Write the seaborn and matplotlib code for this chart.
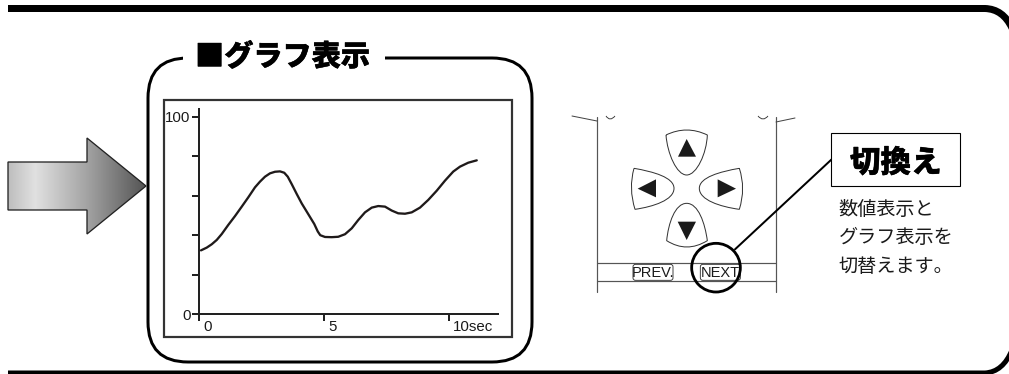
import matplotlib
matplotlib.use('Agg')
import matplotlib.pyplot as plt
import matplotlib.patheffects as pe
from matplotlib.patches import PathPatch, Polygon, Rectangle, FancyBboxPatch, Circle
from matplotlib.path import Path
from matplotlib.transforms import ScaledTranslation
import numpy as np
import pandas as pd
import seaborn as sns

# values
seconds = [0.08, 0.31, 0.51, 0.71, 0.91, 1.17, 1.44, 1.71, 1.97, 2.24, 2.44, 2.64, 2.84, 3.04,
           3.24, 3.41, 3.55, 3.71, 3.91, 4.11, 4.37, 4.61, 4.75, 4.85, 5.04, 5.31, 5.57, 5.84,
           6.11, 6.37, 6.64, 6.91, 7.17, 7.44, 7.71, 7.97, 8.24, 8.51, 8.84, 9.17, 9.51, 9.84,
           10.17, 10.44, 10.77, 11.11]
level = [32.3, 33.7, 35.4, 37.6, 40.6, 45.2, 49.7, 54.5, 59.2, 64.3, 67.2, 69.7, 71.4, 72.2,
         72.4, 71.7, 69.7, 65.9, 60.9, 56.1, 50.7, 45.7, 41.9, 40.0, 39.1, 39.0, 39.2, 40.5,
         43.5, 47.7, 51.6, 54.0, 54.8, 54.5, 52.5, 51.1, 50.9, 51.6, 54.0, 57.9, 62.6, 67.7,
         72.3, 74.8, 76.8, 78.0]
x_ticks = [0, 5, 10]
x_tick_labels = ['0', '5', '10sec']
y_ticks = [0, 20, 40, 60, 80, 100]
y_tick_labels = ['0', '', '', '', '', '100']

title_text = '■グラフ表示'
button_text = '切換え'
note_lines = ['数値表示と', 'グラフ表示を', '切替えます。']
prev_label = 'PREV.'
next_label = 'NEXT'

W, H = 1009, 374
JP = ['Noto Sans CJK JP', 'DejaVu Sans']
LATIN = ['Liberation Sans']
INK = '#1a1a1a'

sns.set_theme(style='white')
plt.rcParams['font.family'] = JP


def px(w):
    return w * 0.72


def shape(ax, verts, codes, fc='white', ec='#333333', lw=1.0, zorder=3):
    ax.add_patch(PathPatch(Path(verts, codes), fc=fc, ec=ec, lw=px(lw), zorder=zorder))


# zoom crop of the remote panel to figure pixels
def rz(x, y):
    return (560 + x / 3, 90 + y / 3)


fig = plt.figure(figsize=(W / 100, H / 100), dpi=100, facecolor='white')
bg = fig.add_axes([0, 0, 1, 1])
bg.axis('off')

M, L, C, Q = Path.MOVETO, Path.LINETO, Path.CURVE4, Path.CURVE3

# outer frame lines
shape(bg, [(8, 8.5), (985, 8.5), (1003, 9), (1012, 28)], [M, L, Q, Q], fc='none', ec='black', lw=7)
shape(bg, [(8, 373), (985, 373), (1003, 372), (1012, 350)], [M, L, Q, Q], fc='none', ec='black', lw=5)

# arrow with a gradient fill
arrow_pts = [(8, 162), (87, 162), (87, 138), (146, 186), (87, 234), (87, 210), (8, 210)]
grad_x = np.array([8, 35, 87, 146])
grad_v = np.array([0.74, 0.88, 0.64, 0.33])
ramp = np.interp(np.arange(8, 147), grad_x, grad_v).reshape(1, -1)
im = bg.imshow(ramp, cmap='gray', vmin=0, vmax=1, extent=(8, 146, 234, 138), aspect='auto', zorder=2)
im.set_clip_path(Polygon(arrow_pts, closed=True, transform=bg.transData))
bg.add_patch(Polygon(arrow_pts, closed=True, fc='none', ec='#222222', lw=px(1.3), zorder=3))
bg.set_xlim(0, W)
bg.set_ylim(H, 0)

# rounded panel around the graph
bg.add_patch(FancyBboxPatch((148 + 40, 58 + 40), 384 - 80, 304 - 80, boxstyle='round,pad=40,rounding_size=40',
                            fc='white', ec='black', lw=px(3), zorder=1))
bg.add_patch(Rectangle((183, 50), 202, 16, fc='white', ec='none', zorder=1.5))
bg.text(195, 57, title_text, fontsize=21, fontweight='black', color='black', ha='left', va='center', zorder=4,
        path_effects=[pe.withStroke(linewidth=0.3, foreground='black')])
bg.add_patch(Rectangle((164, 100), 348, 237, fc='white', ec='#333333', lw=px(2.2), zorder=1.6))

# remote control panel
for x0 in (597, 776):
    bg.plot([x0, x0], [117, 292], color='#555555', lw=px(1.2), zorder=2)
for y0 in (263, 281):
    bg.plot([597, 776], [y0, y0], color='#555555', lw=px(1.2), zorder=2)
bg.plot([572, 597], [116, 121], color='#444444', lw=px(1), zorder=2)
bg.plot([776, 795], [122, 118], color='#444444', lw=px(1), zorder=2)
shape(bg, [(606, 116), (610, 122), (615, 116)], [M, Q, Q], fc='none', lw=0.9)
shape(bg, [(758, 116), (763, 122), (768, 116)], [M, Q, Q], fc='none', lw=0.9)

pads = [
    ([(318, 135), (380, 105), (442, 135), (440, 190), (410, 255), (380, 255), (350, 255), (322, 190), (318, 135)],
     [(380, 147), (354, 200), (408, 200)]),
    ([(380, 340), (345, 340), (325, 400), (320, 452), (380, 490), (442, 452), (435, 400), (415, 340), (380, 340)],
     [(380, 450), (353, 395), (408, 395)]),
    ([(222, 235), (205, 295), (225, 358), (280, 350), (342, 330), (342, 295), (342, 262), (280, 245), (222, 235)],
     [(233, 296), (288, 268), (288, 322)]),
    ([(538, 235), (558, 295), (538, 358), (480, 350), (418, 330), (418, 295), (418, 262), (480, 245), (538, 235)],
     [(528, 296), (473, 268), (473, 322)]),
]
for outline, tri in pads:
    if outline[0] == (380, 340):
        codes = [M, C, C, C, Q, Q, C, C, C]
    else:
        codes = [M, Q, Q, C, C, C, C, C, C]
    shape(bg, [rz(*p) for p in outline], codes, lw=1.0)
    bg.add_patch(Polygon([rz(*p) for p in tri], closed=True, fc='#1a1a1a', ec='none', zorder=4))

for x0, label in ((218, prev_label), (420, next_label)):
    cx, cy = rz(x0 + 61, 547)
    bg.add_patch(FancyBboxPatch((cx - 18, cy - 6), 36, 12, boxstyle='round,pad=2,rounding_size=2.5',
                                fc='white', ec='#333333', lw=px(0.9), zorder=3))
    bg.text(cx, cy + 0.5, label, fontsize=10.5, color=INK, family=LATIN, ha='center', va='center', zorder=4)

bg.add_patch(Circle(rz(468, 533), 73 / 3, fc='none', ec='black', lw=px(2.8), zorder=5))
bg.plot(*zip(rz(525, 478), rz(815, 208)), color='black', lw=px(2), zorder=5)
x0, y0 = rz(814, 130)
bg.add_patch(Rectangle((x0, y0), 129, 53, fc='white', ec='black', lw=px(1.1), zorder=5))
bg.text(*rz(1007, 218), button_text, fontsize=22, fontweight='black', color='black', ha='center', va='center',
        zorder=6, path_effects=[pe.withStroke(linewidth=0.3, foreground='black')])
for line, zy in zip(note_lines, (359, 441, 529)):
    bg.text(*rz(836, zy), line, fontsize=13.8, color=INK, ha='left', va='center', zorder=6)

# the graph itself, on its own scaled axes (x 0 at 199 px, 25 px per second; y 0 at 314 px, 1.97 px per unit)
ax = fig.add_axes([199 / W, 1 - 314 / H, 299 / W, 205 / H])
ax.patch.set_alpha(0)
curve = pd.DataFrame({'seconds': seconds, 'level': level})
sns.lineplot(data=curve, x='seconds', y='level', color='#1f1a1a', lw=px(2.3), ax=ax, errorbar=None)
ax.lines[0].set_solid_joinstyle('round')
ax.set_xlim(0, 299 / 25)
ax.set_ylim(0, 205 / 1.97)
ax.set_xlabel('')
ax.set_ylabel('')
sns.despine(ax=ax)
for side in ('left', 'bottom'):
    ax.spines[side].set_linewidth(px(2))
    ax.spines[side].set_color('#222222')
ax.set_yticks(y_ticks, y_tick_labels)
ax.set_xticks(x_ticks, x_tick_labels)
ax.tick_params(axis='y', length=px(7), width=px(2), color='#222222', pad=1, labelsize=10.8, labelcolor=INK, left=True)
ax.tick_params(axis='x', length=px(7), width=px(2), color='#222222', pad=-1, labelsize=10.8, labelcolor=INK, bottom=True)
for t in ax.get_xticklabels() + ax.get_yticklabels():
    t.set_family(LATIN)
offset = ScaledTranslation(4 / 100, 0, fig.dpi_scale_trans)
for t in ax.get_xticklabels():
    t.set_ha('left')
    t.set_transform(t.get_transform() + offset)

fig.savefig('out.png', dpi=100)
